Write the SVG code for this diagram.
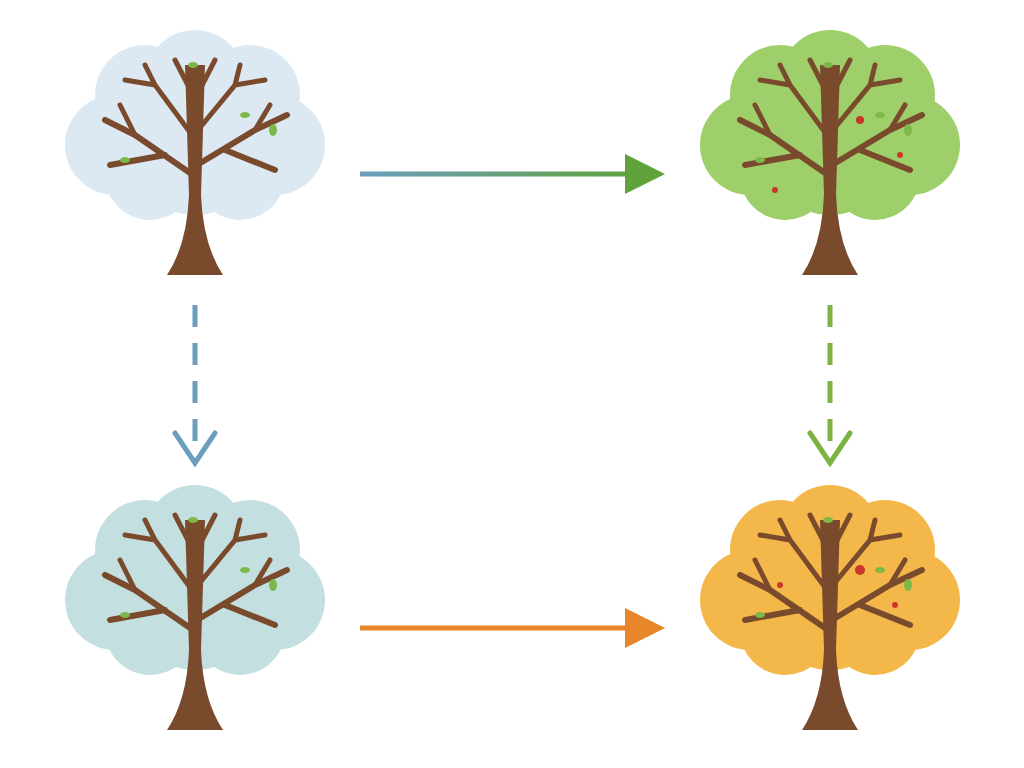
<svg xmlns="http://www.w3.org/2000/svg" width="1024" height="768" viewBox="0 0 1024 768">
<defs>
<style>
.br{fill:none;stroke:#7a4a2c;stroke-linecap:round}
.lf{fill:#7cb84a}
</style>
<linearGradient id="gTop" gradientUnits="userSpaceOnUse" x1="360" y1="0" x2="640" y2="0"><stop offset="0" stop-color="#6b9dbf"/><stop offset="1" stop-color="#5fa33a"/></linearGradient>
<g id="crown">
<circle cx="-80" cy="10" r="50"/><circle cx="-50" cy="-40" r="50"/><circle cx="0" cy="-55" r="50"/><circle cx="55" cy="-40" r="50"/><circle cx="80" cy="10" r="50"/><circle cx="45" cy="40" r="45"/><circle cx="-45" cy="40" r="45"/><circle cx="0" cy="20" r="60"/>
</g>
<g id="tree">
<path d="M-10 -70 L-6 60 Q-8 110 -28 140 L28 140 Q8 110 6 60 L10 -70 Z" fill="#7a4a2c"/>
<path class="br" stroke-width="6" d="M-2 40 L-60 0 M-60 0 L-90 -15 M-30 20 L-85 30 M2 30 L60 -5 M60 -5 L92 -20 M30 15 L80 35"/>
<path class="br" stroke-width="5" d="M-3 0 L-40 -50 L-50 -70 M-40 -50 L-70 -55 M3 -5 L40 -50 L45 -70 M40 -50 L70 -55 M-2 -40 L-20 -75 M2 -40 L20 -75 M-60 0 L-75 -30 M60 -5 L75 -30"/>
<ellipse class="lf" cx="-2" cy="-70" rx="5" ry="3"/><ellipse class="lf" cx="50" cy="-20" rx="5" ry="3"/><ellipse class="lf" cx="-70" cy="25" rx="5" ry="3"/><ellipse class="lf" cx="78" cy="-5" rx="4" ry="6"/>
</g>
</defs>
<g id="winter" transform="translate(195,135)"><use href="#crown" fill="#dde9f2"/><use href="#tree"/></g>
<g id="summer" transform="translate(830,135)"><use href="#crown" fill="#9fcf6a"/><use href="#tree"/><circle cx="30" cy="-15" r="4" fill="#c8372a"/><circle cx="-55" cy="55" r="3" fill="#c8372a"/><circle cx="70" cy="20" r="3" fill="#c8372a"/></g>
<g id="spring" transform="translate(195,590)"><use href="#crown" fill="#c4dfe0"/><use href="#tree"/></g>
<g id="autumn" transform="translate(830,590)"><use href="#crown" fill="#f4b84a"/><use href="#tree"/><circle cx="30" cy="-20" r="5" fill="#c8372a"/><circle cx="-50" cy="-5" r="3" fill="#c8372a"/><circle cx="65" cy="15" r="3" fill="#c8372a"/></g>
<g id="connectors" stroke-width="5" fill="none">
<path d="M360 174 H640" stroke="url(#gTop)"/>
<path d="M625 154 L665 174 L625 194 Z" fill="#5fa33a"/>
<path d="M195 305 V445" stroke="#6b9dbf" stroke-dasharray="22 16"/>
<path d="M175 433 L195 463 L215 433" stroke="#6b9dbf" stroke-linecap="round"/>
<path d="M830 305 V445" stroke="#7cb342" stroke-dasharray="22 16"/>
<path d="M810 433 L830 463 L850 433" stroke="#7cb342" stroke-linecap="round"/>
<path d="M360 628 H640" stroke="#e8862a"/>
<path d="M625 608 L665 628 L625 648 Z" fill="#e8862a"/>
</g>
</svg>
